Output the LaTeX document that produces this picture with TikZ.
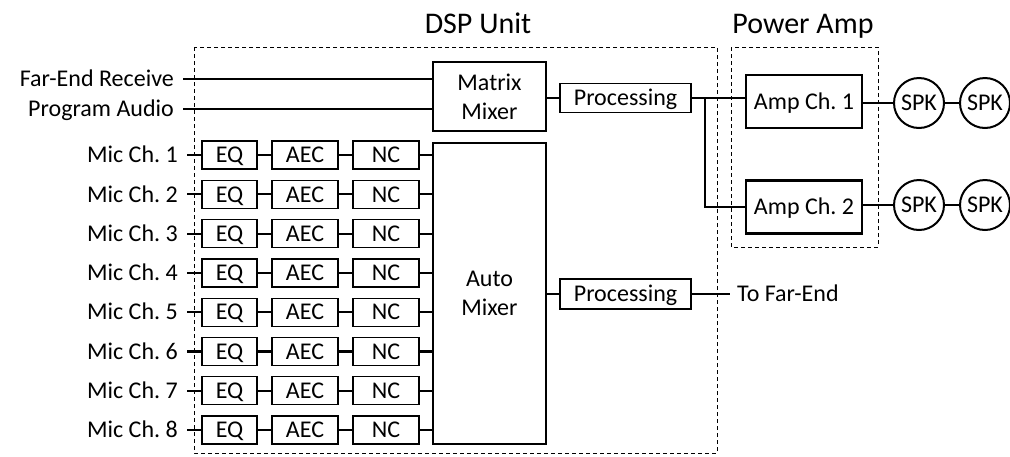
\documentclass[tikz,border=0pt]{standalone}
\usepackage{fontspec}
\setmainfont{Carlito}
\usepackage{tikz}
\usetikzlibrary{positioning, arrows.meta}

\tikzset{
  lbl/.style={inner sep=0pt, text height=15.5pt, text depth=0pt, font=\fontsize{24}{29}\selectfont},
  blk/.style={draw, line width=1.3pt, inner sep=0pt, minimum height=28, text height=15.5pt, text depth=0pt, font=\fontsize{24}{29}\selectfont},
  mixer/.style={draw, line width=1.3pt, inner sep=0pt, minimum width=113, align=center, font=\fontsize{24}{29}\selectfont},
  ampbox/.style={blk, line width=2.5pt, minimum width=116, minimum height=53},
  spk/.style={draw, circle, line width=2pt, inner sep=0pt, minimum size=50, font=\fontsize{24}{29}\selectfont},
  ttl/.style={inner sep=0pt, text height=19.3pt, text depth=0pt, font=\fontsize{30}{34}\selectfont},
  wire/.style={line width=2.2pt},
  unit/.style={dash pattern=on 4pt off 3pt, line width=1pt}
}

\begin{document}
\begin{tikzpicture}[x=1pt, y=-1pt]
\useasboundingbox (0,0) rectangle (1010,456);

% --- Titles and dashed units ---
\node[ttl] (dsptitle) at (478,24) {DSP Unit};
\node[ttl] (amptitle) at (803,24) {Power Amp};
\draw[unit] (194,47) rectangle (717,453);
\draw[unit] (731,47) rectangle (878,247);

% --- Mixers ---
\node[mixer, minimum height=69] (mm) at (489.5,96.5) {Matrix\\Mixer};
\node[mixer, minimum height=301] (am) at (489.5,293.5) {Auto\\Mixer};

% --- Far-end and program inputs ---
\node[lbl, anchor=east] (fer) at (174,79) {Far-End Receive};
\node[lbl, anchor=east] (pga) at (174,109) {Program Audio};
\draw[wire] ([xshift=9]fer.east) -- (fer.east -| mm.west);
\draw[wire] ([xshift=9]pga.east) -- (pga.east -| mm.west);

% --- Mic channels ---
\foreach \i in {1,...,8} {
  \pgfmathsetmacro\yy{155+39.3*(\i-1)}
  \node[lbl, anchor=east] (mic\i) at (178,\yy) {Mic Ch.\ \i};
  \node[blk, minimum width=55] (eq\i) at (229.5,\yy) {EQ};
  \node[blk, minimum width=66] (aec\i) at (305,\yy) {AEC};
  \node[blk, minimum width=66] (nc\i) at (386,\yy) {NC};
  \draw[wire] ([xshift=9]mic\i.east) -- (eq\i);
  \draw[wire] (eq\i) -- (aec\i);
  \draw[wire] (aec\i) -- (nc\i);
  \draw[wire] (nc\i) -- (nc\i -| am.west);
}

% --- Processing ---
\node[blk, minimum width=131, minimum height=29] (proc1) at (625.5,98) {Processing};
\node[blk, minimum width=131, minimum height=30] (proc2) at (625.5,294) {Processing};
\draw[wire] (mm.east |- proc1.west) -- (proc1.west);
\draw[wire] (am.east |- proc2.west) -- (proc2.west);
\node[lbl, anchor=west] (tfe) at (737,294) {To Far-End};
\draw[wire] (proc2.east) -- ([xshift=-7]tfe.west);

% --- Power amp and speakers ---
\node[ampbox] (amp1) at (804,101.5) {Amp Ch.\ 1};
\node[ampbox] (amp2) at (804,207) {Amp Ch.\ 2};
\coordinate (br) at ([xshift=13]proc1.east);
\draw[wire] (proc1.east) -- (proc1.east -| amp1.west);
\draw[wire] (br) |- (amp2.west);

\node[spk] (spk1a) at (919,103) {SPK};
\node[spk] (spk1b) at (985,103) {SPK};
\node[spk] (spk2a) at (919,205) {SPK};
\node[spk] (spk2b) at (985,205) {SPK};
\draw[wire] (amp1.east |- spk1a.west) -- (spk1a);
\draw[wire] (spk1a) -- (spk1b);
\draw[wire] (amp2.east |- spk2a.west) -- (spk2a);
\draw[wire] (spk2a) -- (spk2b);

\end{tikzpicture}
\end{document}
